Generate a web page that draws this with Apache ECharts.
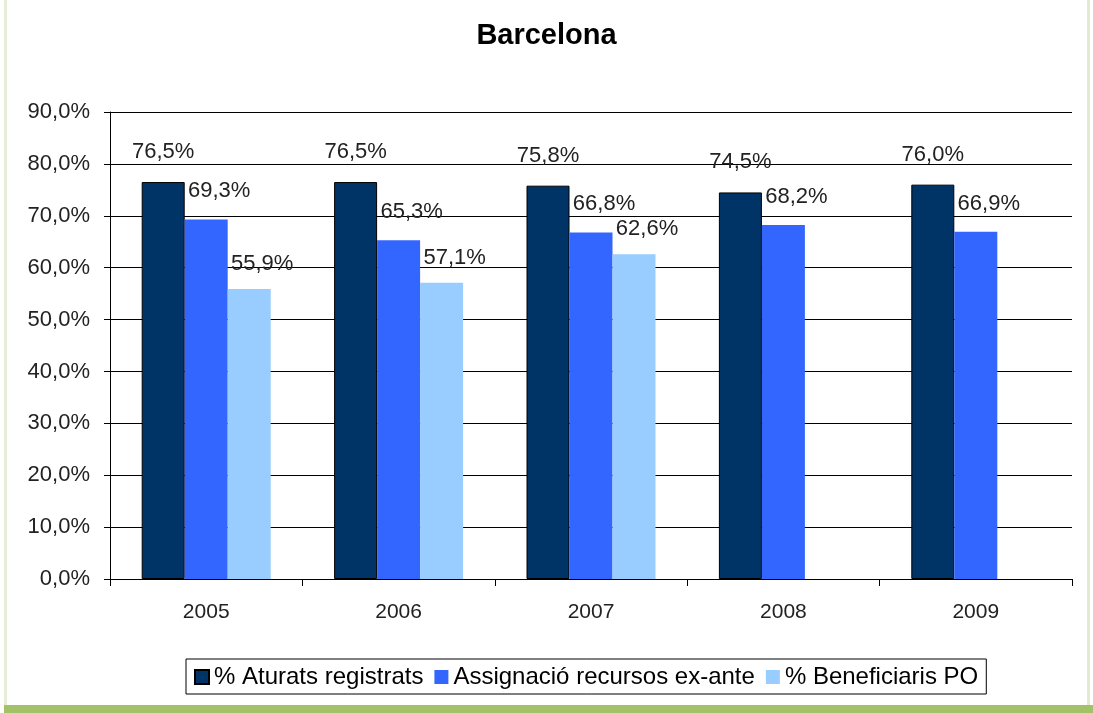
<!DOCTYPE html>
<html>
<head>
<meta charset="utf-8">
<script src="https://cdn.jsdelivr.net/npm/echarts@6/dist/echarts.min.js"></script>
<style>
  html, body { margin: 0; padding: 0; background: #fff; }
  #chart { width: 1093px; height: 713px; }
</style>
</head>
<body>
<div id="chart"></div>
<script>
// data
const years = ['2005', '2006', '2007', '2008', '2009']
const aturats = [76.5, 76.5, 75.8, 74.5, 76.0]
const assignacio = [69.3, 65.3, 66.8, 68.2, 66.9]
const beneficiaris = [55.9, 57.1, 62.6, '-', '-']
const seriesNames = ['% Aturats registrats', 'Assignació recursos ex-ante', '% Beneficiaris PO']

const font = 'Liberation Sans, Arial, sans-serif'
const fmt = v => v.toFixed(1).replace('.', ',') + '%'

const chart = echarts.init(document.getElementById('chart'))

const labelStyle = (offset) => ({
  show: true,
  position: 'top',
  offset: offset,
  color: '#222',
  fontFamily: font,
  fontSize: 22,
  formatter: p => fmt(p.value)
})

chart.setOption({
  animation: false,
  title: {
    text: 'Barcelona',
    left: 'center',
    top: 16,
    textStyle: { fontFamily: font, fontSize: 29, fontWeight: 'bold', color: '#000' }
  },
  grid: { left: 110, right: 21, top: 112, bottom: 134 },
  legend: {
    left: 186,
    top: 659,
    padding: [6, 8, 5, 8],
    itemGap: 11,
    itemWidth: 14,
    itemHeight: 14,
    borderColor: '#000',
    borderWidth: 1,
    icon: 'rect',
    textStyle: { fontFamily: font, fontSize: 24, color: '#000' },
    data: seriesNames
  },
  xAxis: {
    type: 'category',
    data: years,
    axisLine: { lineStyle: { color: '#000', width: 1 } },
    axisTick: { show: true, length: 7, lineStyle: { color: '#000' } },
    axisLabel: { color: '#222', fontFamily: font, fontSize: 21, margin: 23 }
  },
  yAxis: {
    type: 'value',
    min: 0,
    max: 90,
    interval: 10,
    axisLine: { show: true, lineStyle: { color: '#000' } },
    axisTick: { show: true, length: 6, lineStyle: { color: '#000' } },
    axisLabel: { color: '#222', fontFamily: font, fontSize: 22, margin: 20, formatter: v => fmt(v) },
    splitLine: { lineStyle: { color: '#000', width: 1 } }
  },
  series: [
    {
      name: seriesNames[0],
      type: 'bar',
      data: aturats,
      barWidth: 43,
      barGap: '0%',
      itemStyle: { color: '#003366', borderColor: '#000', borderWidth: 1 },
      label: labelStyle([0, -14])
    },
    {
      name: seriesNames[1],
      type: 'bar',
      data: assignacio,
      barWidth: 43,
      barGap: '0%',
      itemStyle: { color: '#3366FF' },
      label: labelStyle([13, -12])
    },
    {
      name: seriesNames[2],
      type: 'bar',
      data: beneficiaris,
      barWidth: 43,
      barGap: '0%',
      itemStyle: { color: '#99CCFF' },
      label: labelStyle([13, -9])
    }
  ],
  graphic: [
    { type: 'rect', shape: { x: 4, y: 0, width: 3, height: 706 }, style: { fill: '#e6eed8' }, silent: true },
    { type: 'rect', shape: { x: 1087, y: 0, width: 3, height: 706 }, style: { fill: '#e2ebcf' }, silent: true },
    { type: 'rect', shape: { x: 4, y: 705, width: 1089, height: 8 }, style: { fill: '#a3c167' }, silent: true }
  ]
})
</script>
</body>
</html>
